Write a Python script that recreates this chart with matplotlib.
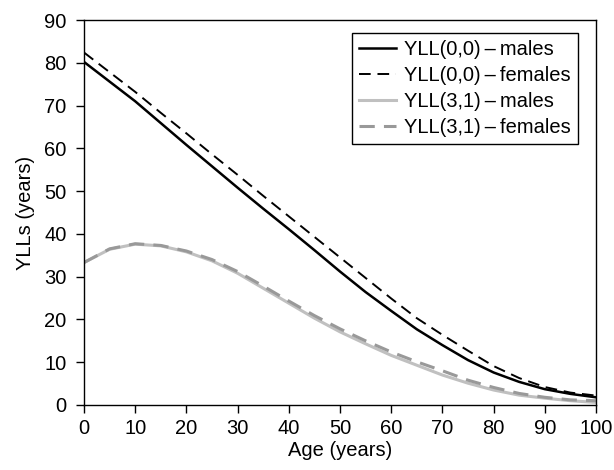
import matplotlib
matplotlib.use("Agg")
import matplotlib.pyplot as plt

plt.rcParams['font.family'] = ['Liberation Sans', 'DejaVu Sans']

# Age in years, sampled every 5 years
ages = [0, 5, 10, 15, 20, 25, 30, 35, 40, 45, 50, 55, 60, 65, 70, 75, 80, 85, 90, 95, 100]

# YLLs
yll00_males = [80.2, 75.6, 71.0, 65.9, 60.8, 55.8, 50.8, 45.9, 41.1, 36.2, 31.2,
               26.4, 22.0, 17.7, 14.0, 10.5, 7.6, 5.4, 3.7, 2.6, 1.8]
yll00_females = [82.4, 77.8, 73.2, 68.3, 63.5, 58.6, 53.8, 48.9, 44.1, 39.3, 34.5,
                 29.7, 24.9, 20.3, 16.4, 12.7, 9.1, 6.3, 4.2, 2.9, 2.2]
yll31_males = [33.3, 36.4, 37.6, 37.2, 35.8, 33.7, 30.8, 27.3, 23.8, 20.3, 17.1,
               14.3, 11.6, 9.3, 7.0, 5.1, 3.5, 2.3, 1.6, 1.0, 0.6]
yll31_females = [33.3, 36.5, 37.7, 37.3, 36.0, 34.0, 31.2, 27.8, 24.3, 20.9, 17.8,
                 15.0, 12.4, 10.1, 8.0, 5.8, 4.1, 2.7, 1.8, 1.2, 1.0]

dash = '\u2009\u2013\u2009'
labels = ['YLL(0,0)' + dash + 'males', 'YLL(0,0)' + dash + 'females',
          'YLL(3,1)' + dash + 'males', 'YLL(3,1)' + dash + 'females']

fig = plt.figure(figsize=(6.14, 4.70), dpi=100)
ax = fig.add_axes([84 / 614, 65 / 470, 512 / 614, 385 / 470])

ax.plot(ages, yll00_males, color='black', lw=1.8, label=labels[0])
ax.plot(ages, yll00_females, color='black', lw=1.4, dashes=(6, 3.5), label=labels[1])
ax.plot(ages, yll31_males, color='#c0c0c0', lw=2.2, label=labels[2])
ax.plot(ages, yll31_females, color='#999999', lw=2.2, dashes=(5, 3), label=labels[3])

ax.set_xlim(0, 100)
ax.set_ylim(0, 90)
ax.set_xticks(range(0, 101, 10))
ax.set_yticks(range(0, 91, 10))
ax.tick_params(direction='out', length=6, width=1, labelsize=14.5, color='black')
ax.tick_params(axis='x', pad=4)
ax.tick_params(axis='y', pad=6.5)
for s in ax.spines.values():
    s.set_linewidth(1.0)
    s.set_color('black')

ax.set_xlabel('Age (years)', fontsize=14.5, labelpad=2)
ax.set_ylabel('YLLs (years)', fontsize=14.5, labelpad=7)

leg = ax.legend(loc='upper right', bbox_to_anchor=(0.965, 0.966), fontsize=14.5,
                fancybox=False, edgecolor='black', framealpha=1,
                handlelength=1.85, handletextpad=0.4, labelspacing=0.35,
                borderpad=0.35, borderaxespad=0)
leg.get_frame().set_linewidth(1.0)

fig.savefig('out.png', dpi=100)
